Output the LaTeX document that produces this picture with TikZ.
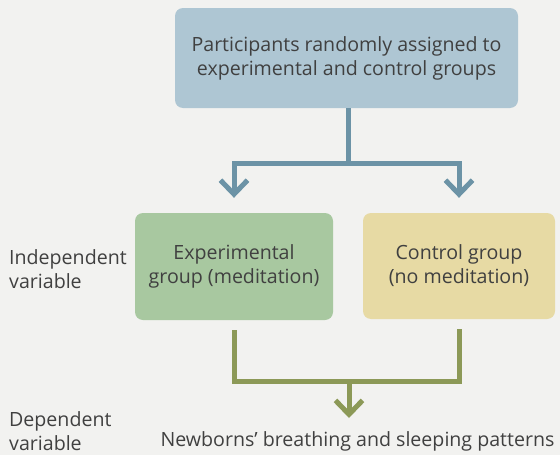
\documentclass[tikz,border=0pt]{standalone}
\usepackage{fontspec}
\setmainfont{Open Sans}
\usetikzlibrary{arrows.meta, positioning}
\definecolor{paper}{HTML}{F2F2F0}
\definecolor{ink}{HTML}{404040}
\definecolor{assignfill}{HTML}{AEC6D3}
\definecolor{assignline}{HTML}{6C93A6}
\definecolor{expfill}{HTML}{A8C8A0}
\definecolor{ctlfill}{HTML}{E7DAA4}
\definecolor{mergeline}{HTML}{8C9957}

\begin{document}
\begin{tikzpicture}[x=1pt, y=-1pt, >={Straight Barb[length=14pt,width=27pt]},
  every node/.style={font=\fontsize{19.6}{24}\selectfont, text=ink},
  groupbox/.style={rounded corners=8pt, align=center, inner sep=0pt},
  varlabel/.style={align=left, anchor=west, inner sep=0pt},
  bluelink/.style={draw=assignline, line width=5pt},
  olivelink/.style={draw=mergeline, line width=5pt}]
\useasboundingbox[fill=paper] (0,0) rectangle (560,455);
\node[groupbox, fill=assignfill, minimum width=343pt, minimum height=100pt] (assign) at (346.5,58) {Participants randomly assigned to\\ experimental and control groups};
\node[groupbox, fill=expfill, minimum width=198pt, minimum height=107pt] (expgrp) at (234,266.5) {Experimental\\ group (meditation)};
\node[groupbox, fill=ctlfill, minimum width=192pt, minimum height=106pt] (ctlgrp) at (459,266) {Control group\\ (no meditation)};
\node[varlabel] (indep) at (9,269) {Independent\\ variable};
\node[varlabel] (dep) at (9,431) {Dependent\\ variable};
\node[inner sep=0pt] (outcome) at (357.5,441) {Newborns’ breathing and sleeping patterns};

\coordinate (fork) at (348,163);
\coordinate (merge) at (349,381);
\coordinate (tip) at (349,418);
\draw[bluelink] (assign.south -| fork) -- (fork);
\draw[bluelink, ->] (fork) -| ([yshift=15pt]expgrp.north);
\draw[bluelink, ->] (fork) -| ([yshift=15pt]ctlgrp.north);
\draw[olivelink] ([yshift=-10pt]expgrp.south) |- (merge) -| ([yshift=-10pt]ctlgrp.south);
\draw[olivelink, ->] (merge) -- (tip);
\end{tikzpicture}
\end{document}
